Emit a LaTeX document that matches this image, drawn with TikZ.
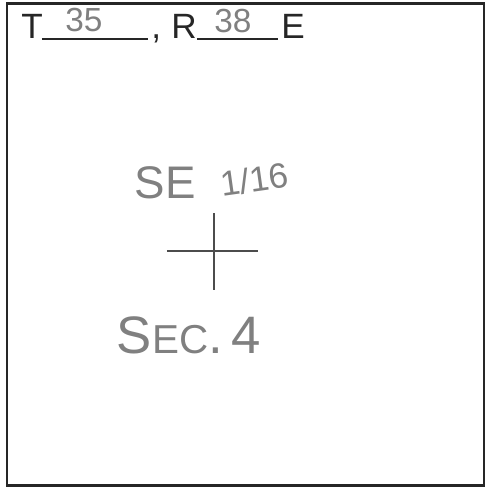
\documentclass[tikz,border=0pt]{standalone}
\usepackage{fontspec}
\setmainfont{Liberation Sans}
\usetikzlibrary{positioning}
\definecolor{pencil}{gray}{0.5}
\definecolor{ink}{gray}{0.15}
\tikzset{
  printed/.style={font=\fontsize{20}{22}\selectfont, text=ink, inner sep=0pt, anchor=base west},
  pencilnote/.style={font=\fontsize{#1}{#1}\selectfont, text=pencil, inner sep=0pt, anchor=base},
  blankline/.style={draw=ink, line width=1.3pt},
  crossline/.style={draw=pencil!60!black, line width=1.5pt},
}
\begin{document}
	\begin{tikzpicture}[x=0.02cm, y=-0.02cm]
		\useasboundingbox (0,0) rectangle (487,488);
		\draw[ink, line width=1.7pt] (7,3) rectangle (484,485);

		% township and range line
		\node[printed] (tee) at (21,38) {T};
		\coordinate (b1s) at (42,39);
		\coordinate (b1e) at (148,39);
		\draw[blankline] (b1s) -- (b1e);
		\node[printed] (comma) at (151,38) {,};
		\node[printed] (arr) at (171,38) {R};
		\coordinate (b2s) at (197,39);
		\coordinate (b2e) at (278,39);
		\draw[blankline] (b2s) -- (b2e);
		\node[printed] (ee) at (281,38) {E};
		\node[pencilnote=19] (twp) at (84,31) {35};
		\node[pencilnote=19] (rng) at (233,32) {38};

		% corner mark
		\node[pencilnote=26] (se) at (165,198) {SE};
		\node[pencilnote=20, rotate=8] (frac) at (256,192) {1/16};
		\coordinate (hw) at (167,251);
		\coordinate (he) at (258,251);
		\coordinate (vn) at (214,213);
		\coordinate (vs) at (214,290);
		\draw[crossline] (hw) -- (he);
		\draw[crossline] (vn) -- (vs);
		\node[pencilnote=30] (sec) at (189,353) {S{\fontsize{23}{23}\selectfont EC}.\,4};
	\end{tikzpicture}
\end{document}
